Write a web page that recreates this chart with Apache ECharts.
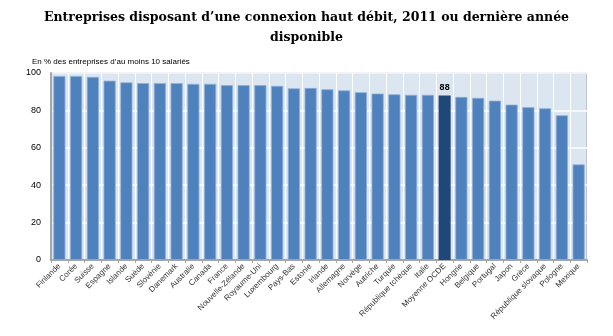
<!DOCTYPE html>
<html>
<head>
<meta charset="utf-8">
<script src="https://cdn.jsdelivr.net/npm/echarts@6/dist/echarts.min.js"></script>
<style>
  html, body { margin: 0; padding: 0; background: #fff; }
  #chart { width: 613px; height: 336px; }
</style>
</head>
<body>
<div id="chart"></div>
<script>
// Pays, dans l'ordre décroissant
const countries = [
  'Finlande', 'Corée', 'Suisse', 'Espagne', 'Islande', 'Suède', 'Slovénie', 'Danemark',
  'Australie', 'Canada', 'France', 'Nouvelle-Zélande', 'Royaume-Uni', 'Luxembourg', 'Pays-Bas',
  'Estonie', 'Irlande', 'Allemagne', 'Norvège', 'Autriche', 'Turquie', 'République tchèque',
  'Italie', 'Moyenne OCDE', 'Hongrie', 'Belgique', 'Portugal', 'Japon', 'Grèce',
  'République slovaque', 'Pologne', 'Mexique'
];

// Part des entreprises avec connexion haut débit (%)
const shares = [
  98.4, 98.4, 97.9, 95.9, 95.0, 94.6, 94.6, 94.6,
  94.2, 94.2, 93.5, 93.5, 93.5, 93.1, 91.8,
  92.0, 91.3, 90.7, 89.7, 89.0, 88.6, 88.3,
  88.3, 88, 87.2, 86.7, 85.2, 83.1, 81.7,
  81.1, 77.4, 51.1
];

const highlighted = 'Moyenne OCDE';
const yTicks = [0, 20, 40, 60, 80, 100];

const chart = echarts.init(document.getElementById('chart'), null, { renderer: 'canvas' });

const barData = countries.map((c, i) => {
  if (c === highlighted) {
    return {
      value: shares[i],
      itemStyle: { color: '#1F477A', borderColor: '#1F477A', borderWidth: 0 },
      label: {
        show: true,
        position: 'top',
        formatter: p => Math.round(p.value),
        color: '#000',
        fontFamily: 'Liberation Sans',
        fontSize: 9,
        fontWeight: 'bold',
        distance: 3
      }
    };
  }
  return shares[i];
});

chart.setOption({
  animation: false,
  backgroundColor: '#ffffff',
  title: [
    {
      text: 'Entreprises disposant d\u2019une connexion haut débit, 2011 ou dernière année\ndisponible',
      left: 'center',
      top: 3,
      textStyle: {
        fontFamily: 'DejaVu Serif',
        fontWeight: 'bold',
        fontSize: 12.5,
        lineHeight: 20,
        align: 'center',
        color: '#000'
      }
    },
    {
      text: 'En % des entreprises d\u2019au moins 10 salariés',
      left: 27,
      top: 53,
      textStyle: {
        fontFamily: 'Liberation Sans',
        fontWeight: 'normal',
        fontSize: 8,
        color: '#000'
      }
    }
  ],
  grid: {
    left: 51,
    right: 26,
    top: 73,
    bottom: 76,
    show: true,
    backgroundColor: '#DCE6F1',
    borderColor: '#A6A6A6',
    borderWidth: 1
  },
  xAxis: {
    type: 'category',
    data: countries,
    boundaryGap: true,
    axisLine: { show: true, lineStyle: { color: '#A6A6A6', width: 2 } },
    axisTick: { show: true, length: 3, lineStyle: { color: '#A6A6A6' } },
    splitLine: { show: true, lineStyle: { color: '#ffffff', width: 1 } },
    axisLabel: {
      interval: 0,
      rotate: 45,
      fontFamily: 'Liberation Sans',
      fontSize: 8,
      color: '#333',
      margin: 5
    }
  },
  yAxis: {
    type: 'value',
    min: yTicks[0],
    max: yTicks[yTicks.length - 1],
    interval: 20,
    axisLine: { show: true, lineStyle: { color: '#A6A6A6', width: 2 } },
    axisTick: { show: false },
    splitLine: { show: true, lineStyle: { color: '#ffffff', width: 1.5 } },
    axisLabel: {
      fontFamily: 'Liberation Sans',
      fontSize: 9,
      color: '#000',
      margin: 10
    }
  },
  series: [
    {
      type: 'bar',
      data: barData,
      barWidth: '72%',
      itemStyle: {
        color: '#4F81BD',
        borderColor: '#8DB0DA',
        borderWidth: 0.8
      }
    }
  ]
});
</script>
</body>
</html>
